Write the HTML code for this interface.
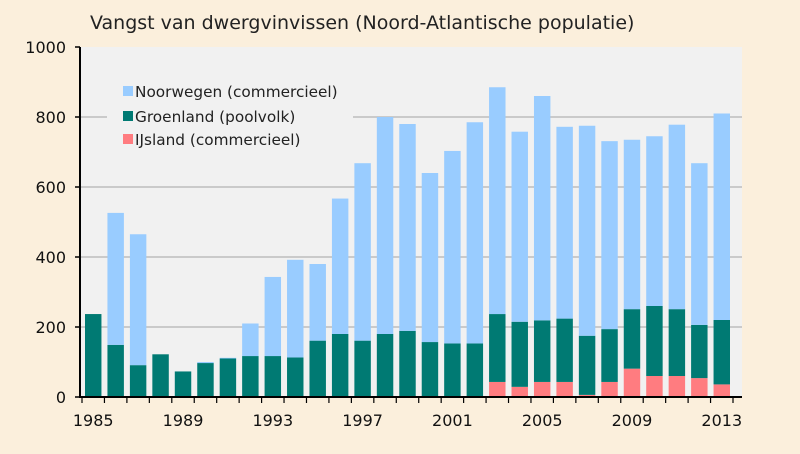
<!DOCTYPE html>
<html><head><meta charset="utf-8"><style>
html,body{margin:0;padding:0;background:#fbefdc;}
svg{display:block;font-family:"DejaVu Sans","Liberation Sans",sans-serif;}
</style></head><body>
<svg id="chart" width="800" height="454">
<rect x="0" y="0" width="800" height="454" fill="#fbefdc"/>
<text x="90" y="29" font-size="19" fill="#222">Vangst van dwergvinvissen (Noord-Atlantische populatie)</text>
<rect x="80" y="47" width="662" height="350" fill="#f1f1f1"/>
<g id="grid"></g>
<g id="bars"></g>
<g id="axes"></g>
<rect x="107" y="78" width="246" height="72" fill="#f1f1f1"/>
<g font-size="15.3" fill="#222">
<rect x="123" y="86" width="10" height="10" fill="#99ccff"/>
<text x="135" y="97">Noorwegen (commercieel)</text>
<rect x="123" y="111" width="10" height="10" fill="#007a73"/>
<text x="135" y="122">Groenland (poolvolk)</text>
<rect x="123" y="134" width="10" height="10" fill="#ff7c80"/>
<text x="135" y="145">IJsland (commercieel)</text>
</g>
</svg>
<script>
const years = [1985,1986,1987,1988,1989,1990,1991,1992,1993,1994,1995,1996,1997,1998,1999,2000,2001,2002,2003,2004,2005,2006,2007,2008,2009,2010,2011,2012,2013];
const iceland = [0,0,0,0,0,0,0,0,0,0,0,0,0,0,0,0,0,0,43,29,43,43,6,43,81,60,60,54,36];
const greenland = [237,149,91,122,73,97,110,117,117,113,161,180,161,180,189,157,153,153,194,186,176,181,169,151,170,200,191,152,184];
const norway = [0,377,374,0,0,3,2,93,226,279,219,387,507,620,591,483,550,632,648,543,641,548,600,537,484,485,527,462,590];
const yTicks = [0,200,400,600,800,1000];
const xLabels = [1985,1989,1993,1997,2001,2005,2009,2013];

const NS="http://www.w3.org/2000/svg";
const x0=82, x1=733, yBase=397, yTop=47, yMax=1000;
const band=(x1-x0)/years.length;
const yScale=v=>yBase-(v/yMax)*(yBase-yTop);
const xScale=i=>x0+i*band;
function mk(tag,attrs,parent){const e=document.createElementNS(NS,tag);for(const k in attrs)e.setAttribute(k,attrs[k]);parent.appendChild(e);return e;}
const grid=document.getElementById('grid'),bars=document.getElementById('bars'),axes=document.getElementById('axes');
yTicks.forEach(t=>{
  if(t>0&&t<yMax){const g=mk('line',{x1:80,x2:742,y1:yScale(t),y2:yScale(t),stroke:'#bdbdbd','stroke-width':1.5},grid);
  
  }
  const tk=mk('line',{x1:75,x2:80,y1:yScale(t),y2:yScale(t),stroke:'#000','stroke-width':1.5},axes);
  
  
  const lb=mk('text',{x:66,y:yScale(t)+6,'text-anchor':'end','font-size':16,fill:'#111'},axes);
  lb.textContent=t;
  
  
});
const series=[['iceland',iceland,'#ff7c80'],['greenland',greenland,'#007a73'],['norway',norway,'#99ccff']];
years.forEach((yr,i)=>{
  let acc=0;
  series.forEach(([nm,arr,col])=>{
    const v=arr[i]; if(v<=0) return;
    const r=mk('rect',{x:xScale(i)+3,width:band-6,y:yScale(acc+v),height:yScale(acc)-yScale(acc+v),fill:col},bars);
    
    
    acc+=v;
  });
});
for(let i=0;i<=years.length;i++){
  const tk=mk('line',{x1:xScale(i),x2:xScale(i),y1:397,y2:403,stroke:'#000','stroke-width':1.2},axes);
  
  
}
xLabels.forEach(yr=>{
  const i=years.indexOf(yr);
  const lb=mk('text',{x:xScale(i)+band/2,y:426,'text-anchor':'middle','font-size':16,fill:'#111'},axes);
  lb.textContent=yr;
  
  
});
const ya=mk('line',{x1:80,x2:80,y1:47,y2:398,stroke:'#000','stroke-width':2},axes);


const xa=mk('line',{x1:80,x2:742,y1:397,y2:397,stroke:'#000','stroke-width':2},axes);


</script>
</body></html>
